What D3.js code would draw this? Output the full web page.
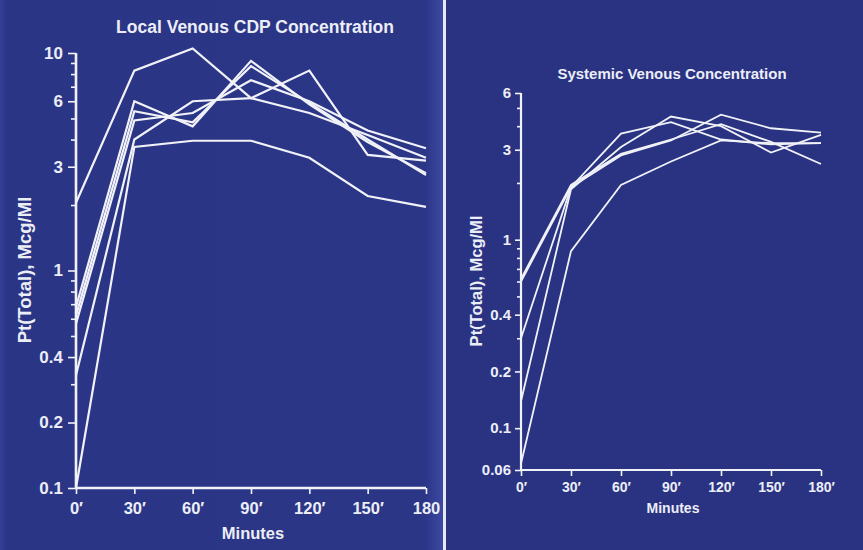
<!DOCTYPE html>
<html>
<head>
<meta charset="utf-8">
<script src="https://cdn.jsdelivr.net/npm/d3@7"></script>
<style>
  html, body { margin: 0; padding: 0; background: #2b3585; }
  svg { display: block; }
  text { font-family: "Liberation Sans", Arial, sans-serif; fill: #eceef6; }
</style>
</head>
<body>
<script>
// time points (minutes) shared by both panels
var minutes = [0, 30, 60, 90, 120, 150, 180];
var leftXLabels = ["0\u2032", "30\u2032", "60\u2032", "90\u2032", "120\u2032", "150\u2032", "180"];
var rightXLabels = ["0\u2032", "30\u2032", "60\u2032", "90\u2032", "120\u2032", "150\u2032", "180\u2032"];

// Local venous CDP concentration, one array per subject
var local1 = [2.05, 8.3, 10.5, 6.2, 5.3, 4.2, 3.3];
var local2 = [0.68, 6.0, 4.6, 9.2, 5.8, 3.9, 2.8];
var local3 = [0.62, 5.4, 4.8, 8.7, 5.9, 4.0, 2.75];
var local4 = [0.57, 4.9, 5.3, 7.5, 6.0, 4.4, 3.65];
var local5 = [0.33, 4.0, 6.0, 6.2, 8.3, 3.4, 3.2];
var local6 = [0.1, 3.7, 3.95, 3.95, 3.3, 2.2, 1.96];

// Systemic venous concentration
var sys1 = [0.30, 1.9, 3.65, 4.2, 3.4, 3.2, 3.25];
var sys2 = [0.139, 1.85, 3.1, 4.5, 4.0, 2.9, 3.6];
var sys3 = [0.60, 1.9, 2.8, 3.36, 4.6, 3.9, 3.7];
var sys4 = [0.62, 1.95, 2.85, 3.4, 4.1, 3.3, 2.52];
var sys5 = [0.065, 0.87, 1.95, 2.6, 3.36, 3.25, 3.25];

// y ticks
var leftMajor = [0.1, 0.2, 0.4, 1, 3, 6, 10];
var leftMinor = [0.3, 0.5, 0.6, 0.7, 0.8, 0.9, 2, 4, 5, 7, 8, 9];
var rightMajor = [0.06, 0.1, 0.2, 0.4, 1, 3, 6];
var rightMinor = [0.3, 0.5, 0.6, 0.7, 0.8, 0.9, 2, 4, 5];

var W = 863, H = 550;

var svg = d3.select("body").append("svg")
    .attr("width", W)
    .attr("height", H);

// background: left slide slightly lighter at its edges, white divider
var defs = svg.append("defs");
var grad = defs.append("linearGradient").attr("id", "leftbg");
grad.append("stop").attr("offset", "0").attr("stop-color", "#33409a");
grad.append("stop").attr("offset", "0.015").attr("stop-color", "#2b3586");
grad.append("stop").attr("offset", "0.96").attr("stop-color", "#2c3687");
grad.append("stop").attr("offset", "1").attr("stop-color", "#3a4aa3");

svg.append("rect").attr("x", 0).attr("y", 0).attr("width", 443).attr("height", H)
    .attr("fill", "url(#leftbg)");
svg.append("rect").attr("x", 443).attr("y", 0).attr("width", W - 443).attr("height", H)
    .attr("fill", "#2a3382");
svg.append("rect").attr("x", 443).attr("y", 0).attr("width", 3).attr("height", H)
    .attr("fill", "#e6e8f2");

var lineColor = "#f1f2f8";

function panel(opt) {
  var g = svg.append("g");

  var x = d3.scaleLinear().domain([0, 180]).range([opt.x0, opt.x1]);
  var y = d3.scaleLog().domain(opt.yDomain).range([opt.y0, opt.y1]);

  // minor y ticks
  g.append("g")
      .attr("transform", "translate(" + opt.x0 + ",0)")
      .call(d3.axisLeft(y).tickValues(opt.minor).tickSize(opt.minorLen).tickFormat(""))
      .call(function(s) { s.select(".domain").remove(); });

  // major y ticks + labels
  var ya = g.append("g")
      .attr("transform", "translate(" + opt.x0 + ",0)")
      .call(d3.axisLeft(y).tickValues(opt.major).tickSize(opt.majorLen).tickPadding(opt.yPad)
            .tickFormat(function(d) { return String(d); }));
  ya.select(".domain")
      .attr("d", "M0," + opt.y0 + "V" + opt.y1);
  ya.selectAll(".tick text").style("font-size", opt.yFont + "px");

  // x axis
  var xa = g.append("g")
      .attr("transform", "translate(0," + opt.y0 + ")")
      .call(d3.axisBottom(x).tickValues(minutes).tickSize(6).tickPadding(opt.xPad)
            .tickFormat(function(d, i) { return opt.xLabels[i]; }));
  xa.select(".domain").attr("d", "M" + opt.x0 + ",0H" + opt.x1);
  xa.selectAll(".tick text").style("font-size", opt.xFont + "px");

  g.selectAll(".domain").attr("stroke", lineColor).attr("stroke-width", opt.axisW);
  g.selectAll(".tick line").attr("stroke", lineColor).attr("stroke-width", 1.6);
  g.selectAll(".tick text")
      .style("font-weight", "bold")
      .attr("fill", "#eceef6");

  // data lines
  var line = d3.line()
      .x(function(d, i) { return x(minutes[i]); })
      .y(function(d) { return y(d); });

  g.selectAll("path.series")
      .data(opt.series)
    .enter().append("path")
      .attr("class", "series")
      .attr("d", line)
      .attr("fill", "none")
      .attr("stroke", lineColor)
      .attr("stroke-width", opt.lineW)
      .attr("stroke-linejoin", "miter");

  // titles
  g.append("text")
      .attr("x", opt.titleX).attr("y", opt.titleY)
      .attr("text-anchor", "middle")
      .style("font-size", opt.titleFont + "px")
      .style("font-weight", "bold")
      .text(opt.title);

  g.append("text")
      .attr("x", (opt.x0 + opt.x1) / 2 + 2).attr("y", opt.minY)
      .attr("text-anchor", "middle")
      .style("font-size", opt.minFont + "px")
      .style("font-weight", "bold")
      .text("Minutes");

  g.append("text")
      .attr("transform", "translate(" + opt.ylabX + "," + opt.ylabY + ") rotate(-90)")
      .attr("text-anchor", "middle")
      .style("font-size", opt.ylabFont + "px")
      .style("font-weight", "bold")
      .text("Pt(Total), Mcg/Ml");
}

panel({
  x0: 76, x1: 426, y0: 488, y1: 53,
  yDomain: [0.1, 10],
  major: leftMajor, minor: leftMinor, majorLen: 8, minorLen: 5, yPad: 5,
  xLabels: leftXLabels, xPad: 8, xFont: 16.5, yFont: 17,
  series: [local1, local2, local3, local4, local5, local6],
  axisW: 2.6, lineW: 2.2,
  title: "Local Venous CDP Concentration", titleX: 255, titleY: 33, titleFont: 17.5,
  minY: 539, minFont: 16.5, ylabX: 31, ylabY: 270, ylabFont: 18.5
});

panel({
  x0: 521, x1: 821, y0: 470, y1: 93,
  yDomain: [0.06, 6],
  major: rightMajor, minor: rightMinor, majorLen: 6, minorLen: 4, yPad: 4,
  xLabels: rightXLabels, xPad: 6, xFont: 14, yFont: 15,
  series: [sys1, sys2, sys3, sys4, sys5],
  axisW: 2.2, lineW: 1.8,
  title: "Systemic Venous Concentration", titleX: 672, titleY: 79, titleFont: 15,
  minY: 513, minFont: 14, ylabX: 482, ylabY: 281, ylabFont: 16.5
});
</script>
</body>
</html>
